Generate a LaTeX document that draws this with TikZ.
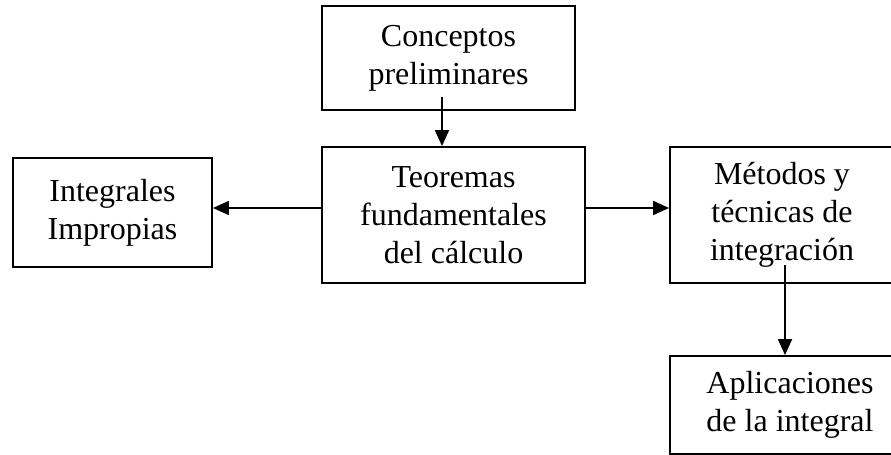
\documentclass[tikz,border=0pt]{standalone}
\usepackage{fontspec}
\setmainfont{Liberation Serif}
\usetikzlibrary{arrows.meta}
\begin{document}
\begin{tikzpicture}[x=1bp,y=-1bp,
  box/.style={draw=black, line width=1.8bp, rectangle, inner sep=0pt, align=center,
    font=\fontsize{32bp}{38bp}\selectfont},
  arr/.style={line width=1.8bp, -{Triangle[length=16bp,width=14bp]}}]
\useasboundingbox (0,0) rectangle (891,455);
\clip (0,0) rectangle (891,455);
\node[box, minimum width=253bp, minimum height=104bp] (cp) at (448.5,58) {Conceptos\\preliminares};
\node[box, minimum width=263bp, minimum height=136bp] (tf) at (453.5,215) {Teoremas\\fundamentales\\del cálculo};
\node[box, minimum width=199bp, minimum height=109bp] (ii) at (112.5,212.5) {Integrales\\Impropias};
\node[box, minimum width=224bp, minimum height=136bp] (mt) at (782,215) {Métodos y\\técnicas de\\integración};
\node[box, minimum width=240bp, minimum height=98bp] (ap) at (790,405) {Aplicaciones\\de la integral};
\coordinate (s1) at (442,97);
\coordinate (s2) at (785,265);
\coordinate (h) at (0,208);
\draw[arr] (s1) -- (s1 |- tf.north);
\draw[arr] (tf.west |- h) -- (ii.east |- h);
\draw[arr] (tf.east |- h) -- (mt.west |- h);
\draw[arr] (s2) -- (s2 |- ap.north);
\end{tikzpicture}
\end{document}
